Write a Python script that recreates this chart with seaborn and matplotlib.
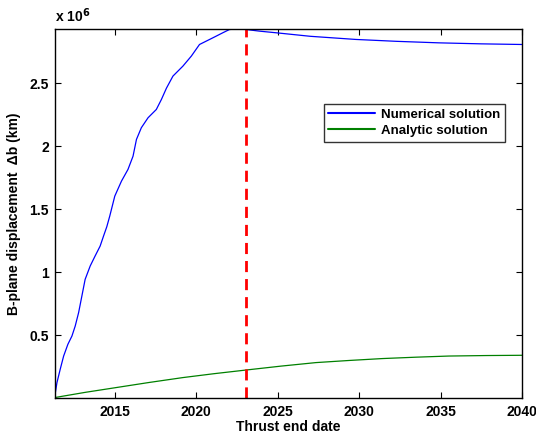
import matplotlib
matplotlib.use("Agg")
import matplotlib.pyplot as plt
import seaborn as sns
import pandas as pd

# Numerical solution (years, displacement in km)
num_year = [2011.3, 2011.45, 2011.65, 2011.86, 2012.12, 2012.37, 2012.57, 2012.78, 2012.98,
            2013.18, 2013.49, 2013.79, 2014.1, 2014.31, 2014.51, 2014.69, 2015.0, 2015.41,
            2015.81, 2016.12, 2016.33, 2016.63, 2017.04, 2017.55, 2017.86, 2018.17, 2018.57,
            2019.18, 2019.7, 2020.2, 2020.82, 2021.22, 2021.63, 2022.04, 2022.5, 2023.06,
            2023.88, 2024.9, 2027.0, 2029.8, 2032.3, 2034.9, 2037.5, 2040.0]
num_disp = [0.0, 0.122e6, 0.228e6, 0.333e6, 0.426e6, 0.492e6, 0.571e6, 0.678e6, 0.81e6,
            0.942e6, 1.048e6, 1.127e6, 1.206e6, 1.286e6, 1.36e6, 1.444e6, 1.603e6, 1.722e6,
            1.815e6, 1.92e6, 2.053e6, 2.146e6, 2.225e6, 2.291e6, 2.37e6, 2.46e6, 2.556e6,
            2.635e6, 2.715e6, 2.807e6, 2.847e6, 2.873e6, 2.9e6, 2.926e6, 2.93e6, 2.926e6,
            2.913e6, 2.9e6, 2.872e6, 2.847e6, 2.832e6, 2.82e6, 2.812e6, 2.807e6]

# Analytic solution
ana_year = [2011.3, 2013.2, 2015.1, 2017.1, 2019.18, 2021.1, 2023.06, 2025.2, 2027.35,
            2029.4, 2031.43, 2033.5, 2035.5, 2037.8, 2040.0]
ana_disp = [0.003e6, 0.045e6, 0.083e6, 0.123e6, 0.162e6, 0.193e6, 0.222e6, 0.253e6, 0.281e6,
            0.298e6, 0.313e6, 0.324e6, 0.333e6, 0.337e6, 0.339e6]

thrust_end = 2023.06
x_ticks = [2015, 2020, 2025, 2030, 2035, 2040]
y_ticks = [0.5e6, 1.0e6, 1.5e6, 2.0e6, 2.5e6]
y_tick_labels = ["0.5", "1", "1.5", "2", "2.5"]

sns.set_theme(style="white")
plt.rcParams["font.family"] = ["Liberation Sans", "DejaVu Sans"]
plt.rcParams["font.weight"] = "bold"
plt.rcParams["text.color"] = "black"
plt.rcParams["axes.labelcolor"] = "black"
plt.rcParams["xtick.color"] = "black"
plt.rcParams["ytick.color"] = "black"

df = pd.concat([
    pd.DataFrame({"year": num_year, "disp": num_disp, "series": "Numerical solution"}),
    pd.DataFrame({"year": ana_year, "disp": ana_disp, "series": "Analytic solution"}),
])

fig = plt.figure(figsize=(5.36, 4.36), dpi=100)
ax = fig.add_axes([0.1017, 0.0872, 0.974 - 0.1017, 0.9335 - 0.0872])

sns.lineplot(data=df, x="year", y="disp", hue="series", sort=False, estimator=None,
             palette={"Numerical solution": "#0000ff", "Analytic solution": "#008000"},
             linewidth=0.9, ax=ax)
for line in ax.get_lines():
    line.set_solid_joinstyle("round")
ax.axvline(thrust_end, color="#ff0000", linestyle=(0, (4, 2.5)), linewidth=2)

ax.set_xlim(2011.3, 2040)
ax.set_ylim(0, 2.93e6)
ax.set_xticks(x_ticks)
ax.set_xticklabels([str(t) for t in x_ticks], fontsize=10, fontweight="bold", color="black")
ax.set_yticks(y_ticks)
ax.set_yticklabels(y_tick_labels, fontsize=10, fontweight="bold", color="black")
ax.tick_params(direction="in", length=4, width=0.8, top=True, right=True,
               bottom=True, left=True, pad=4, colors="black")
ax.tick_params(axis="x", pad=5)
for s in ax.spines.values():
    s.set_color("black")
    s.set_linewidth(1.0)

ax.set_xlabel("Thrust end date", fontsize=10, fontweight="bold", labelpad=1, color="black")
ax.set_ylabel("B-plane displacement  \u0394b (km)", fontsize=10, fontweight="bold",
              labelpad=6, color="black")
ax.text(0.0, 1.012, "x 10$^{\\mathbf{6}}$", transform=ax.transAxes, fontsize=10,
        fontweight="bold", ha="left", va="bottom", color="black")

leg = ax.legend(loc="upper left", bbox_to_anchor=(0.562, 0.815), frameon=True,
                fancybox=False, edgecolor="black", fontsize=9.5, handlelength=3.5,
                borderpad=0.35, labelspacing=0.3, handletextpad=0.5)
leg.get_frame().set_linewidth(1.0)
for t in leg.get_texts():
    t.set_fontweight("bold")
    t.set_color("black")
for l in leg.get_lines():
    l.set_linewidth(1.5)

fig.savefig("out.png", dpi=100)
